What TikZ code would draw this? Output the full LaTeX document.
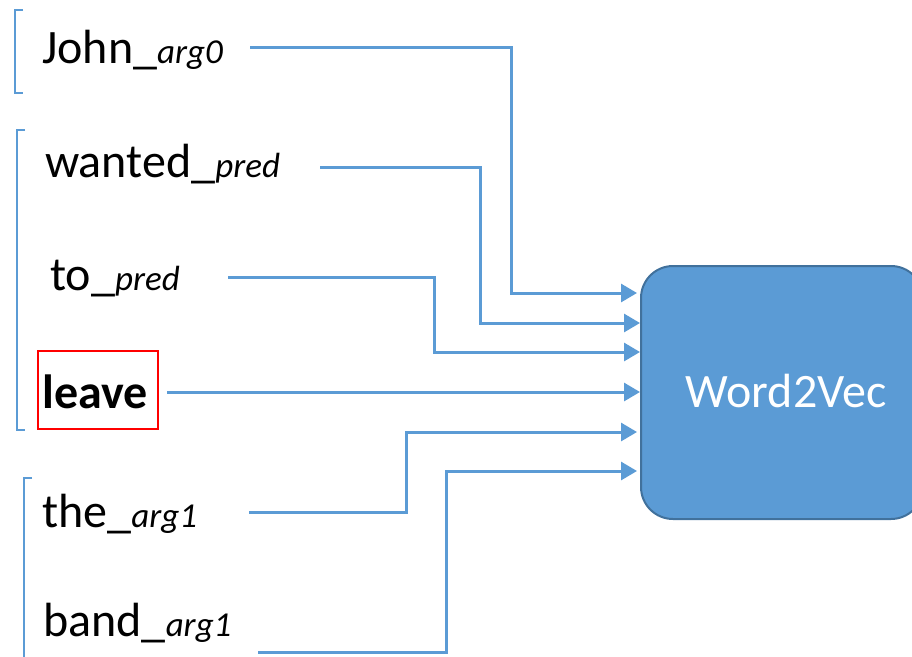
\documentclass[tikz,border=0pt]{standalone}
\usepackage{fontspec}
\setmainfont{Carlito}
\usetikzlibrary{arrows.meta}
\definecolor{lblue}{HTML}{5B9BD5}
\definecolor{dblue}{HTML}{41719C}
\tikzset{
  word/.style={anchor=base west, inner sep=0pt, font=\fontsize{48}{48}\selectfont},
  conn/.style={draw=lblue, line width=3pt, -{Triangle[length=16pt,width=18pt]}},
  brk/.style={draw=lblue, line width=1.2pt},
}
\newcommand{\sbx}[1]{{\fontsize{35}{35}\selectfont\itshape #1}}
\begin{document}
\begin{tikzpicture}[x=1pt,y=-1pt]
\useasboundingbox (0,0) rectangle (912,656);
\clip (0,0) rectangle (912,656);
% Word2Vec box
\node (w2v) [draw=dblue, line width=2pt, fill=lblue, rounded corners=32pt,
  minimum width=282pt, minimum height=253pt, anchor=north west, inner sep=0pt] at (640,265) {};
\node (w2vt) [font=\fontsize{48}{48}\selectfont, text=white, anchor=base] at (786,407) {Word2Vec};
% words
\node (john) [word] at (42,63) {John\_\sbx{arg0}};
\node (wanted) [word] at (45,177) {wanted\_\sbx{pred}};
\node (to) [word] at (50,290) {to\_\sbx{pred}};
\node (leave) [word, font=\fontsize{48}{48}\selectfont\bfseries] at (42,408) {leave};
\node (the) [word] at (42,527) {the\_\sbx{arg1}};
\node (band) [word] at (43,636) {band\_\sbx{arg1}};
\node (redbox) [draw=red, line width=1.5pt, anchor=north west, minimum width=120pt, minimum height=78pt, inner sep=0pt] at (37,350) {};
% brackets
\draw[brk] (23,10) -- (15,10) -- (15,93) -- (23,93);
\draw[brk] (25,130) -- (17,130) -- (17,430) -- (25,430);
\draw[brk] (32,478) -- (24,478) -- (24,660);
% connector start coordinates
\coordinate (s1) at (250,47);
\coordinate (s2) at (320,167);
\coordinate (s3) at (228,277);
\coordinate (s4) at (167,392);
\coordinate (s5) at (249,512);
\coordinate (s6) at (258,652);
\draw[conn] (s1) -| (511,293) -- ([xshift=-3pt]w2v.west |- 0,293);
\draw[conn] (s2) -| (480,323) -- (w2v.west |- 0,323);
\draw[conn] (s3) -| (434,352) -- (w2v.west |- 0,352);
\draw[conn] (s4) -- (w2v.west |- 0,392);
\draw[conn] (s5) -| (406,432) -- ([xshift=-3pt]w2v.west |- 0,432);
\draw[conn] (s6) -| (446,471) -- ([xshift=-3pt]w2v.west |- 0,471);
\end{tikzpicture}
\end{document}
